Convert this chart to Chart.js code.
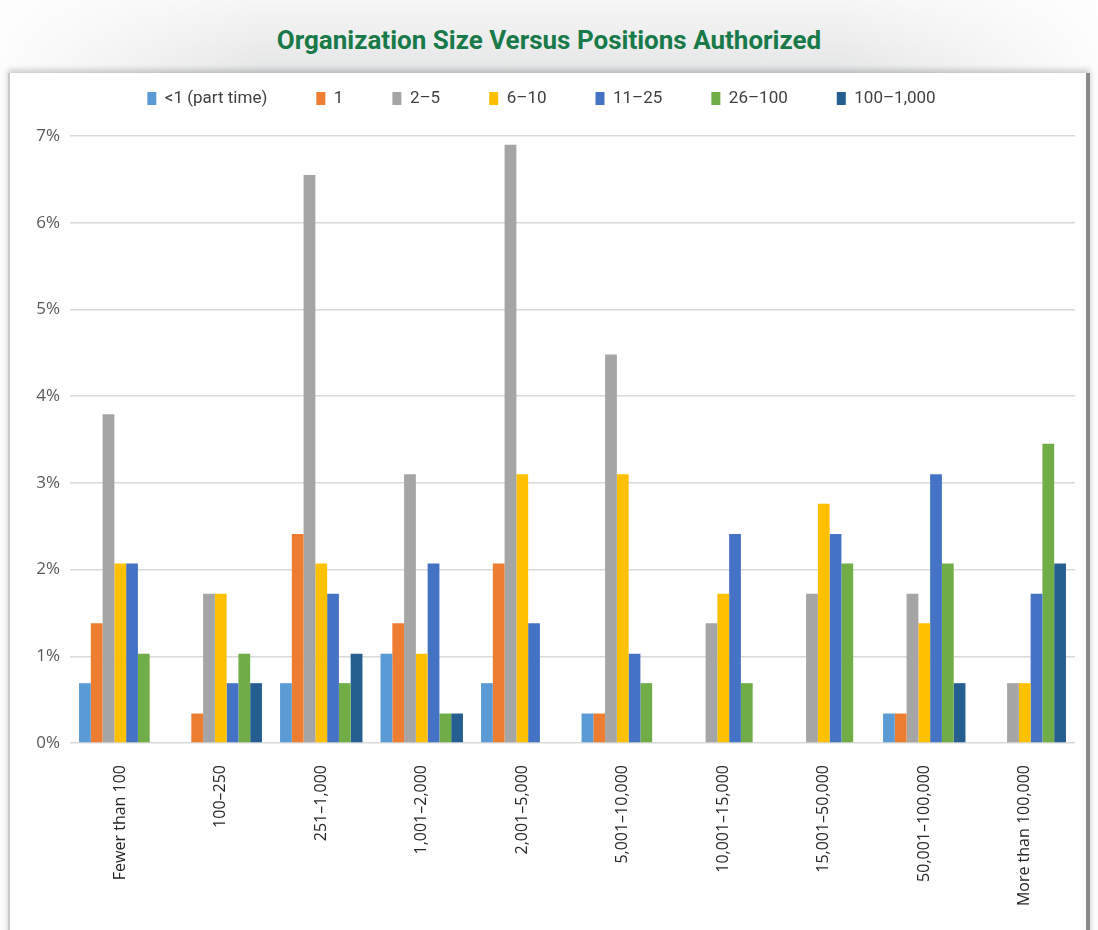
<!DOCTYPE html>
<html lang="en">
  <head>
    <meta charset="UTF-8" />
    <title>Organization Size Versus Positions Authorized</title>
    <script src="https://cdn.jsdelivr.net/npm/chart.js"></script>
    <style>
      html,
      body {
        margin: 0;
        width: 1098px;
        height: 930px;
        overflow: hidden;
      }
      body {
        position: relative;
        background: linear-gradient(to right, rgba(255, 255, 255, 0.9), rgba(255, 255, 255, 0) 260px,
            rgba(255, 255, 255, 0) 840px, rgba(255, 255, 255, 0.9)),
          linear-gradient(#f6f6f6, #e4e5e6 75px);
      }
      .title {
        position: absolute;
        top: 25px;
        left: 0;
        width: 1098px;
        text-align: center;
        font: bold 26px "Roboto", sans-serif;
        color: #177a48;
      }
      .panel {
        position: absolute;
        left: 8px;
        top: 73px;
        width: 1076px;
        height: 880px;
        background: #fff;
        border-left: 2px solid #c9c9c9;
        border-right: 4px solid #8a8a8a;
        box-shadow: 0 -3px 6px rgba(0, 0, 0, 0.2);
      }
      .chart-box {
        position: absolute;
        left: 8px;
        top: 41px;
        width: 1080px;
        height: 889px;
      }
    </style>
  </head>
  <body>
    <div class="title">Organization Size Versus Positions Authorized</div>
    <div class="panel"></div>
    <div class="chart-box">
      <canvas id="sizeChart" width="1080" height="889"></canvas>
    </div>

    <script>
      // categorias (tamaño de organización)
      const categories = [
        "Fewer than 100",
        "100–250",
        "251–1,000",
        "1,001–2,000",
        "2,001–5,000",
        "5,001–10,000",
        "10,001–15,000",
        "15,001–50,000",
        "50,001–100,000",
        "More than 100,000",
      ];

      const seriesNames = ["<1 (part time)", "1", "2–5", "6–10", "11–25", "26–100", "100–1,000"];

      // valores en %
      const partTime = [0.69, 0, 0.69, 1.03, 0.69, 0.34, 0, 0, 0.34, 0];
      const one = [1.38, 0.34, 2.41, 1.38, 2.07, 0.34, 0, 0, 0.34, 0];
      const twoToFive = [3.79, 1.72, 6.55, 3.1, 6.9, 4.48, 1.38, 1.72, 1.72, 0.69];
      const sixToTen = [2.07, 1.72, 2.07, 1.03, 3.1, 3.1, 1.72, 2.76, 1.38, 0.69];
      const elevenTo25 = [2.07, 0.69, 1.72, 2.07, 1.38, 1.03, 2.41, 2.41, 3.1, 1.72];
      const twentySixTo100 = [1.03, 1.03, 0.69, 0.34, 0, 0.69, 0.69, 2.07, 2.07, 3.45];
      const hundredTo1000 = [0, 0.69, 1.03, 0.34, 0, 0, 0, 0, 0.69, 2.07];

      const yTicks = [0, 1, 2, 3, 4, 5, 6, 7];

      const seriesValues = [partTime, one, twoToFive, sixToTen, elevenTo25, twentySixTo100, hundredTo1000];
      const colors = ["#5b9bd5", "#ed7d31", "#a5a5a5", "#ffc000", "#4472c4", "#70ad47", "#255e91"];

      // deja más espacio bajo la leyenda
      const legendGap = {
        id: "legendGap",
        beforeLayout(chart) {
          const lg = chart.legend;
          if (lg && !lg._gapPatched) {
            const fit = lg.fit;
            lg.fit = function () {
              fit.call(this);
              this.height += 19;
            };
            lg._gapPatched = true;
          }
        },
      };

      const ctx = document.getElementById("sizeChart").getContext("2d");
      new Chart(ctx, {
        type: "bar",
        data: {
          labels: categories,
          datasets: seriesNames.map((name, i) => ({
            label: name,
            data: seriesValues[i],
            backgroundColor: colors[i],
            borderWidth: 0,
            categoryPercentage: 0.82,
            barPercentage: 1,
          })),
        },
        plugins: [legendGap],
        options: {
          responsive: false,
          animation: false,
          layout: {
            padding: { top: 0, right: 13, bottom: 0, left: 0 },
          },
          plugins: {
            legend: {
              position: "top",
              labels: {
                boxWidth: 9,
                boxHeight: 13,
                padding: 49,
                color: "#404040",
                font: { family: "Roboto, sans-serif", size: 17 },
              },
            },
            tooltip: { enabled: false },
          },
          scales: {
            x: {
              grid: { display: false },
              border: { display: false },
              ticks: {
                minRotation: 90,
                maxRotation: 90,
                padding: 14,
                color: "#262626",
                font: { family: "'Open Sans', sans-serif", size: 16 },
              },
              afterFit: (scale) => {
                scale.height = 187;
              },
            },
            y: {
              min: 0,
              max: 7,
              afterBuildTicks: (scale) => {
                scale.ticks = yTicks.map((v) => ({ value: v }));
              },
              grid: { color: "#d9d9d9", lineWidth: 1.5, drawTicks: false },
              border: { display: false },
              ticks: {
                padding: 10,
                color: "#595959",
                font: { family: "'Open Sans', sans-serif", size: 17 },
                callback: (v) => v + "%",
              },
              afterFit: (scale) => {
                scale.width = 62;
              },
            },
          },
        },
      });
    </script>
  </body>
</html>
